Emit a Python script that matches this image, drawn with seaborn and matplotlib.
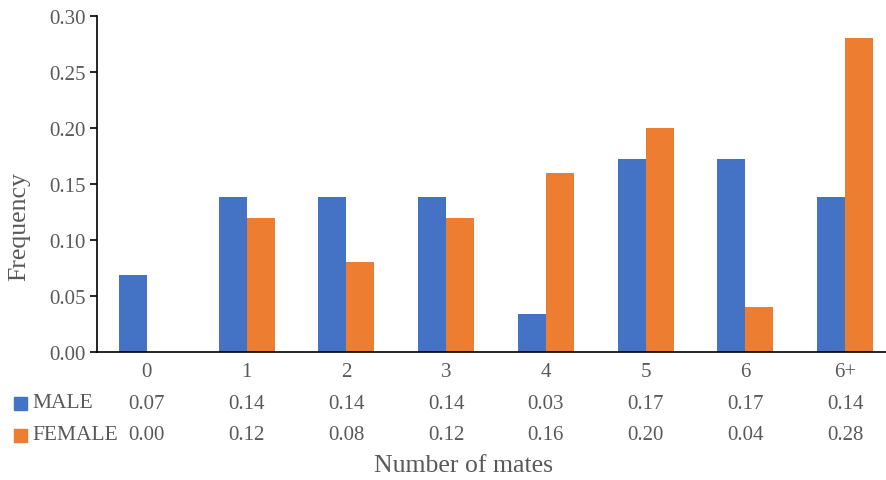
import pandas as pd
import seaborn as sns
import matplotlib.pyplot as plt
from matplotlib.patches import Rectangle

# data
categories = ['0', '1', '2', '3', '4', '5', '6', '6+']
male = [0.069, 0.138, 0.138, 0.138, 0.034, 0.172, 0.172, 0.138]
female = [0.00, 0.12, 0.08, 0.12, 0.16, 0.20, 0.04, 0.28]
male_table = ['0.07', '0.14', '0.14', '0.14', '0.03', '0.17', '0.17', '0.14']
female_table = ['0.00', '0.12', '0.08', '0.12', '0.16', '0.20', '0.04', '0.28']
series = ['MALE', 'FEMALE']
colors = ['#4472C4', '#ED7D31']

df = pd.DataFrame({
    'mates': categories * 2,
    'freq': male + female,
    'sex': ['MALE'] * len(categories) + ['FEMALE'] * len(categories),
})

sns.set_style('white')
plt.rcParams['font.family'] = ['Liberation Serif', 'DejaVu Serif']
grey = '#595959'

fig = plt.figure(figsize=(8.87, 4.81), dpi=100)
ax = fig.add_axes([97 / 887, 1 - 353 / 481, 798 / 887, 336 / 481])

sns.barplot(data=df, x='mates', y='freq', hue='sex', palette=colors,
            width=0.56, order=categories, hue_order=series, ax=ax,
            legend=False, edgecolor='none', saturation=1)

ax.set_xlim(-0.5, 7.5)
ax.set_ylim(0, 0.30)
ax.set_yticks([0, 0.05, 0.10, 0.15, 0.20, 0.25, 0.30])
ax.set_yticklabels([f'{v:.2f}' for v in ax.get_yticks()])
for s in ['top', 'right']:
    ax.spines[s].set_visible(False)
for s in ['left', 'bottom']:
    ax.spines[s].set_color('black')
    ax.spines[s].set_linewidth(1.2)
ax.tick_params(axis='y', length=5, width=1.2, color='black', direction='out',
               labelsize=15, labelcolor=grey, pad=3, left=True)
ax.tick_params(axis='x', length=0, labelsize=15, labelcolor=grey, pad=7)
ax.set_xlabel('')
ax.set_ylabel('Frequency', fontsize=18.5, color=grey)
ax.yaxis.set_label_coords(-0.084, 0.375)

# data table under the axis
tr = ax.get_xaxis_transform()
for i in range(len(categories)):
    ax.text(i, -0.152, male_table[i], transform=tr, ha='center', va='center',
            fontsize=15, color=grey)
    ax.text(i, -0.247, female_table[i], transform=tr, ha='center', va='center',
            fontsize=15, color=grey)

for j, (name, c) in enumerate(zip(series, colors)):
    ypix = 404 + 32 * j
    fig.patches.append(Rectangle((14 / 887, 1 - (ypix + 7) / 481), 13 / 887, 13 / 481,
                                 transform=fig.transFigure, color=c))
    fig.text(32 / 887, 1 - ypix / 481, name, ha='left', va='center',
             fontsize=15.5, color=grey)

fig.text(464 / 887, 1 - 466 / 481, 'Number of mates', ha='center', va='center',
         fontsize=18.5, color=grey)

fig.savefig('out.png', dpi=100)
